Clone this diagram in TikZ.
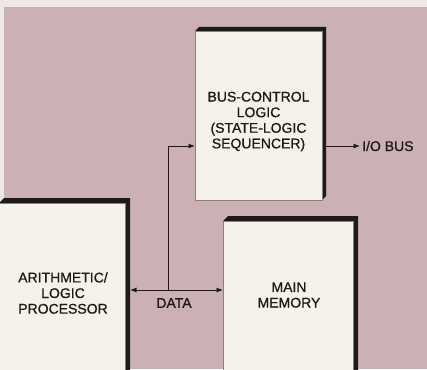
\documentclass[tikz,border=0pt]{standalone}
\usepackage{fontspec}
\setmainfont{Liberation Sans}
\newfontfamily\medfont[FakeBold=0.9]{Liberation Sans}
\usetikzlibrary{backgrounds,arrows.meta}
\definecolor{bgpink}{HTML}{CBB0B4}
\definecolor{paper}{HTML}{EEE9E5}
\definecolor{face}{HTML}{F5F2EA}
\definecolor{ink}{HTML}{1E1A1A}
\tikzset{
  facebox/.style={fill=face, draw=ink!55, line width=0.4pt, inner sep=0pt, outer sep=0pt},
  lbl/.style={font=\medfont\fontsize{14}{15.6}\selectfont, text=ink, align=center, inner sep=0pt},
  conn/.style={draw=ink, line width=0.9pt, -{Latex[length=6.5pt,width=5pt]}},
  shadowfill/.style={fill=ink}
}
\begin{document}
\begin{tikzpicture}[x=1pt,y=-1pt]
\useasboundingbox (0,0) rectangle (427,369);
\clip (0,0) rectangle (427,369);
\begin{scope}[on background layer]
  \fill[paper] (0,0) rectangle (427,369);
  \fill[bgpink] (4,7) rectangle (427,369);
\end{scope}

% boxes
\node[facebox, minimum width=127pt, minimum height=169pt] (bus) at (258.5,115.5) {};
\node[facebox, minimum width=126pt, minimum height=172pt] (alu) at (62,289) {};
\node[facebox, minimum width=130pt, minimum height=154pt] (mem) at (288,298) {};

\begin{scope}[on background layer]
  \foreach \b/\d in {bus/4, alu/5, mem/5}{
    \fill[shadowfill] (\b.north west) -- ([shift={(\d,-\d)}]\b.north west)
      -- ([shift={(\d,-\d)}]\b.north east) -- ([shift={(\d,-\d)}]\b.south east)
      -- (\b.south east) -- cycle;
  }
\end{scope}

% labels
\node[lbl] (bustext) at (258.5,121.5) {BUS-CONTROL\\LOGIC\\(STATE-LOGIC\\SEQUENCER)};
\node[lbl] (alutext) at (63,293) {ARITHMETIC/\\LOGIC\\PROCESSOR};
\node[lbl] (memtext) at (289,295) {MAIN\\MEMORY};
\node[lbl] (data) at (174,303) {DATA};
\node[lbl, anchor=west] (iobus) at (362,146) {I/O BUS};

% connectors
\coordinate (j) at (168,290);
\coordinate (busin) at (bus.west |- 0,146);
\draw[conn] (j) -- ([xshift=5pt]alu.east |- j);
\draw[conn] (j) -- (mem.west |- j);
\draw[conn] (j) |- (busin);
\draw[conn] ([xshift=4pt]bus.east |- busin) -- ([xshift=-2pt]iobus.west);
\end{tikzpicture}
\end{document}
